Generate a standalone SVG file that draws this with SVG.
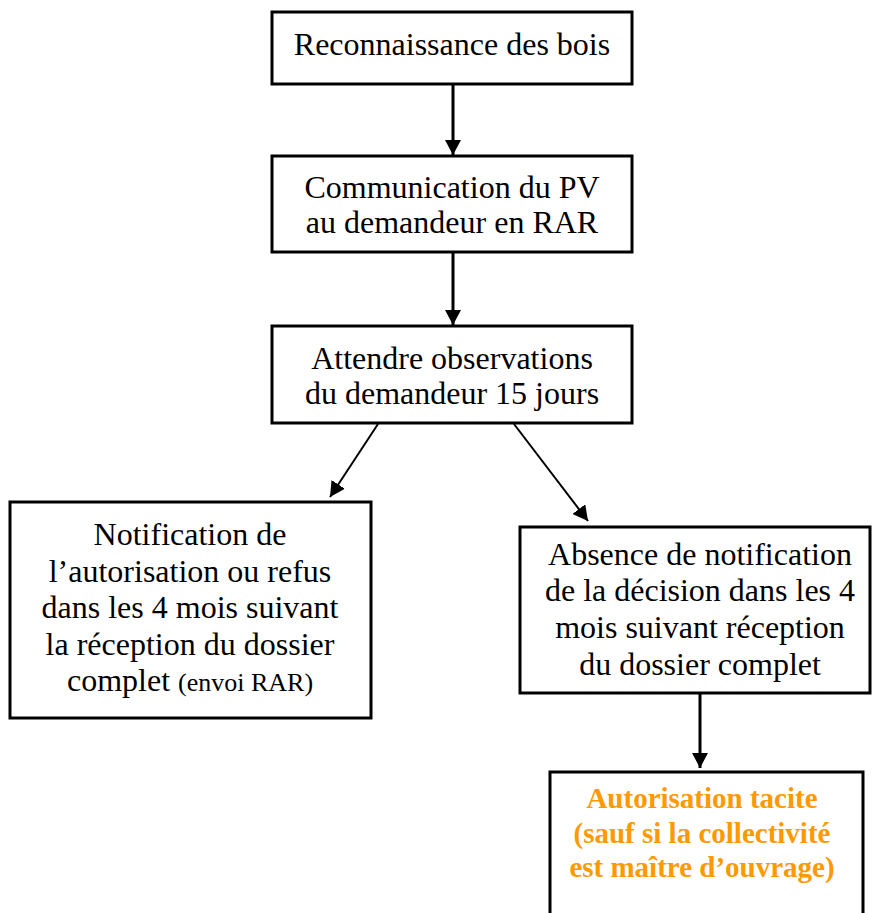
<svg xmlns="http://www.w3.org/2000/svg" width="872" height="913" viewBox="0 0 872 913">
<style>
.box{fill:#fff;stroke:#000;stroke-width:3}
.t{font-family:"Liberation Serif","Times New Roman",serif;font-size:32px;fill:#000;text-anchor:middle}
.o{font-family:"Liberation Serif","Times New Roman",serif;font-size:29px;font-weight:bold;fill:#FF9900;text-anchor:middle}
.c{fill:none;stroke:#000}
</style>
<defs>
<marker id="ah" markerUnits="userSpaceOnUse" markerWidth="16" markerHeight="16" viewBox="0 0 16 16" refX="15" refY="8" orient="auto">
<path d="M0,0 L15,8 L0,16 Z" fill="#000"/>
</marker>
</defs>
<rect width="872" height="913" fill="#fff"/>
<g id="connectors">
<line class="c" x1="453" y1="84" x2="453" y2="155" stroke-width="3" marker-end="url(#ah)"/>
<line class="c" x1="453" y1="252" x2="453" y2="325" stroke-width="3" marker-end="url(#ah)"/>
<line class="c" x1="378" y1="424" x2="330" y2="497" stroke-width="2" marker-end="url(#ah)"/>
<line class="c" x1="514" y1="424" x2="588" y2="521" stroke-width="2" marker-end="url(#ah)"/>
<line class="c" x1="700" y1="693" x2="700" y2="768" stroke-width="3" marker-end="url(#ah)"/>
</g>
<g id="n1">
<rect class="box" x="272" y="12" width="360" height="72"/>
<text class="t" x="452" y="55">Reconnaissance des bois</text>
</g>
<g id="n2">
<rect class="box" x="272" y="156" width="360" height="96"/>
<text class="t" x="452" y="198">Communication du PV</text>
<text class="t" x="452" y="233">au demandeur en RAR</text>
</g>
<g id="n3">
<rect class="box" x="272" y="326" width="360" height="97"/>
<text class="t" x="452" y="369">Attendre observations</text>
<text class="t" x="452" y="404">du demandeur 15 jours</text>
</g>
<g id="n4">
<rect class="box" x="10" y="502" width="361" height="216"/>
<text class="t" x="190" y="545">Notification de</text>
<text class="t" x="190" y="582">l’autorisation ou refus</text>
<text class="t" x="190" y="618">dans les 4 mois suivant</text>
<text class="t" x="190" y="655">la réception du dossier</text>
<text class="t" x="190" y="691">complet <tspan font-size="26">(envoi RAR)</tspan></text>
</g>
<g id="n5">
<rect class="box" x="520" y="527" width="350" height="166"/>
<text class="t" x="700" y="565">Absence de notification</text>
<text class="t" x="700" y="601">de la décision dans les 4</text>
<text class="t" x="700" y="638">mois suivant réception</text>
<text class="t" x="700" y="675">du dossier complet</text>
</g>
<g id="n6">
<rect class="box" x="550" y="772" width="313" height="160"/>
<text class="o" x="702" y="808">Autorisation tacite</text>
<text class="o" x="702" y="843">(sauf si la collectivité</text>
<text class="o" x="702" y="877">est maître d’ouvrage)</text>
</g>
</svg>
